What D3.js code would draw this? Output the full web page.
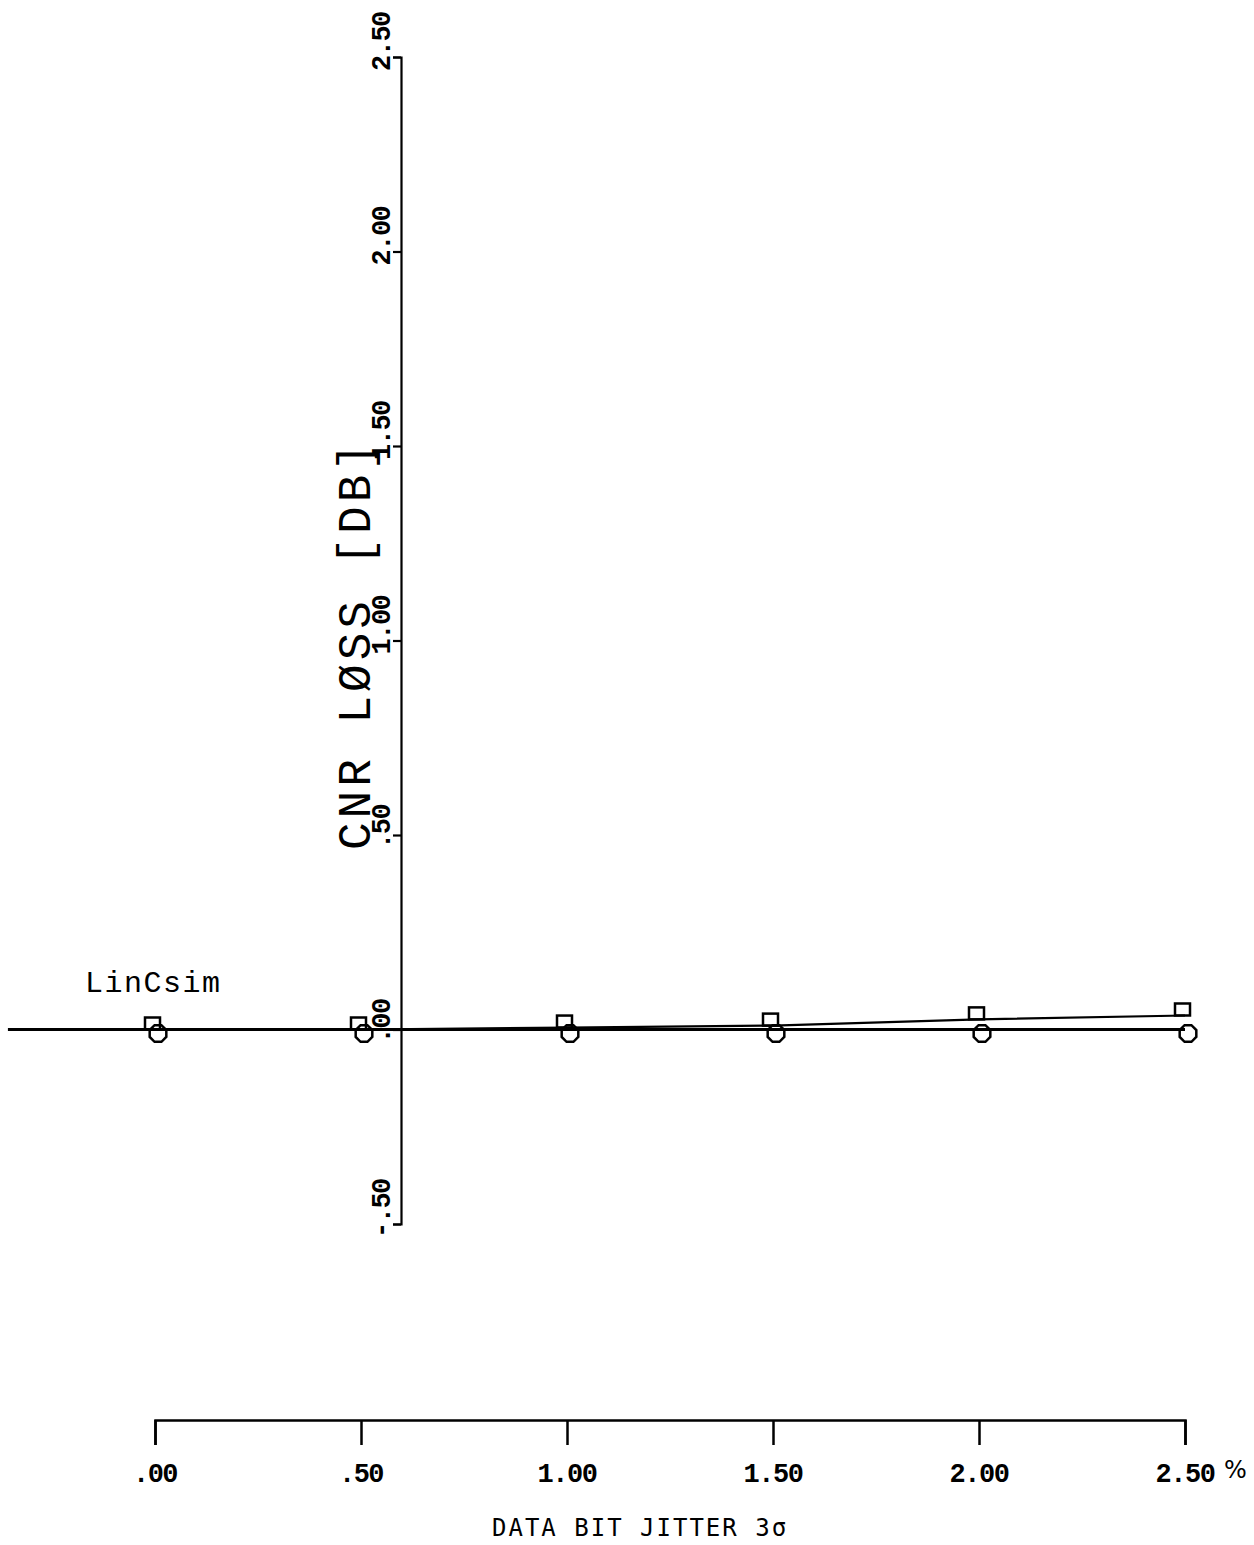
<!DOCTYPE html>
<html>
<head>
<meta charset="utf-8">
<script src="https://cdn.jsdelivr.net/npm/d3@7"></script>
<style>
  html, body { margin: 0; padding: 0; background: #fff; }
  svg { display: block; }
</style>
</head>
<body>
<script>
// ---- data ----
const jitter = [0, 0.5, 1.0, 1.5, 2.0, 2.5];
const lossSquare = [0, 0, 0.005, 0.01, 0.026, 0.036];
const lossOctagon = [0, 0, 0, 0, 0, 0];
const yTicks = [-0.5, 0, 0.5, 1.0, 1.5, 2.0, 2.5];
const yTickLabels = ["-.50", ".00", ".50", "1.00", "1.50", "2.00", "2.50"];
const xTicks = [0, 0.5, 1.0, 1.5, 2.0, 2.5];
const xTickLabels = [".00", ".50", "1.00", "1.50", "2.00", "2.50"];
const zeroLineExtent = [-0.357, 2.5];

const W = 1254, H = 1545;
const svg = d3.select("body").append("svg").attr("width", W).attr("height", H);

const x = d3.scaleLinear().domain([0, 2.5]).range([155, 1185]);
const y = d3.scaleLinear().domain([-0.5, 2.5]).range([1224, 57]);
const yAxisX = 401;
const xAxisY = 1420;

const plotFont = "'Liberation Mono', 'DejaVu Sans Mono', monospace";

// ---- y axis ----
const gy = svg.append("g").attr("transform", `translate(${yAxisX},0)`)
  .call(d3.axisLeft(y).tickValues(yTicks).tickSize(8).tickSizeOuter(8).tickFormat(""));
gy.selectAll("path, line").attr("stroke", "#000").attr("stroke-width", 2.2);
gy.selectAll("text").remove();

svg.append("g").selectAll("text").data(yTicks).join("text")
  .attr("transform", (d) => `translate(${yAxisX - 11},${y(d) + 14}) rotate(-90)`)
  .attr("text-anchor", "start")
  .attr("font-family", plotFont)
  .attr("font-weight", "bold")
  .attr("font-size", 27)
  .attr("letter-spacing", -1.5)
  .attr("fill", "#000")
  .text((d, i) => yTickLabels[i]);

// y title
svg.append("text")
  .attr("transform", "translate(370,850) rotate(-90)")
  .attr("text-anchor", "start")
  .attr("font-family", plotFont)
  .attr("font-size", 46)
  .attr("letter-spacing", 4)
  .attr("fill", "#000")
  .text("CNR LØSS [DB]");

// ---- zero line ----
svg.append("line")
  .attr("x1", x(zeroLineExtent[0])).attr("x2", x(zeroLineExtent[1]))
  .attr("y1", y(0)).attr("y2", y(0))
  .attr("stroke", "#000").attr("stroke-width", 3);

// ---- series lines ----
const line = d3.line().x((d) => x(d[0])).y((d) => y(d[1]));
svg.append("path")
  .datum(jitter.map((j, i) => [j, lossSquare[i]]))
  .attr("d", line).attr("fill", "none").attr("stroke", "#000").attr("stroke-width", 2.2);
svg.append("path")
  .datum(jitter.map((j, i) => [j, lossOctagon[i]]))
  .attr("d", line).attr("fill", "none").attr("stroke", "#000").attr("stroke-width", 2.2);

// ---- markers ----
const octPts = d3.range(8).map((k) => {
  const a = Math.PI / 8 + k * Math.PI / 4;
  return [9 * Math.cos(a), 9 * Math.sin(a)];
});
svg.append("g").selectAll("polygon").data(jitter).join("polygon")
  .attr("points", octPts.map((p) => p.join(",")).join(" "))
  .attr("transform", (d, i) => `translate(${x(d) + 3},${y(lossOctagon[i]) + 4})`)
  .attr("fill", "none").attr("stroke", "#000").attr("stroke-width", 2.5);
svg.append("g").selectAll("rect").data(jitter).join("rect")
  .attr("x", (d) => x(d) - 10)
  .attr("y", (d, i) => y(lossSquare[i]) - 12)
  .attr("width", 15).attr("height", 12)
  .attr("fill", "none").attr("stroke", "#000").attr("stroke-width", 2.5);

// series label
svg.append("text")
  .attr("x", 85).attr("y", 992)
  .attr("font-family", plotFont)
  .attr("font-size", 30)
  .attr("letter-spacing", 1.5)
  .attr("fill", "#000")
  .text("LinCsim");

// ---- x axis ----
const gx = svg.append("g").attr("transform", `translate(0,${xAxisY})`)
  .call(d3.axisBottom(x).tickValues(xTicks).tickSize(25).tickSizeOuter(25).tickFormat(""));
gx.selectAll("path, line").attr("stroke", "#000").attr("stroke-width", 2.5);
gx.selectAll("text").remove();

svg.append("g").selectAll("text").data(xTicks).join("text")
  .attr("x", (d) => x(d))
  .attr("y", 1482)
  .attr("text-anchor", "middle")
  .attr("font-family", plotFont)
  .attr("font-weight", "bold")
  .attr("font-size", 27)
  .attr("letter-spacing", -1.5)
  .attr("fill", "#000")
  .text((d, i) => xTickLabels[i]);

svg.append("text")
  .attr("x", 1224).attr("y", 1478)
  .attr("font-family", "'DejaVu Sans', sans-serif")
  .attr("font-size", 24)
  .attr("fill", "#000")
  .text("%");

svg.append("text")
  .attr("x", 492).attr("y", 1536)
  .attr("font-family", "'DejaVu Sans Mono', monospace")
  .attr("font-size", 24)
  .attr("letter-spacing", 2)
  .attr("fill", "#000")
  .text("DATA BIT JITTER 3σ");
</script>
</body>
</html>
